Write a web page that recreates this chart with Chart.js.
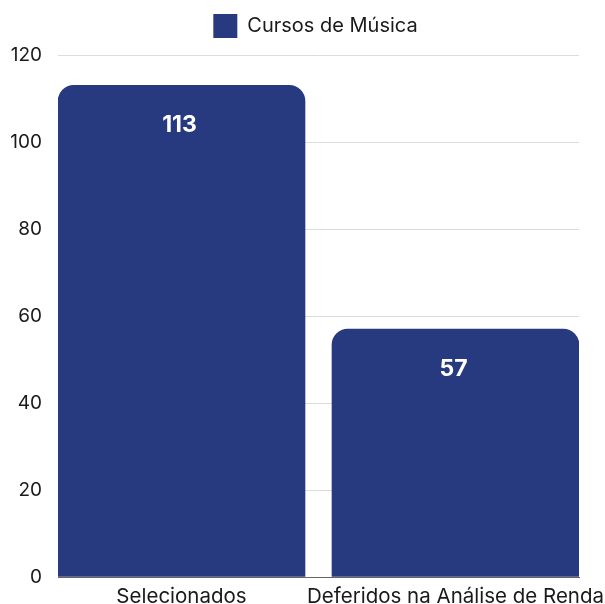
<!DOCTYPE html>
<html>
<head>
<meta charset="utf-8">
<script src="https://cdn.jsdelivr.net/npm/chart.js@4/dist/chart.umd.min.js"></script>
<style>
  html, body { margin: 0; padding: 0; background: #fff; }
  #wrap { width: 605px; height: 604px; }
</style>
</head>
<body>
<div id="wrap"><canvas id="grafico"></canvas></div>
<script>
// DADOS
const categorias = ['Selecionados', 'Deferidos na Análise de Renda'];
const valores = [113, 57];
const serie = 'Cursos de Música';
const ticksY = [0, 20, 40, 60, 80, 100, 120];

const corBarra = '#283a7f';
const fonte = "'Inter', sans-serif";

Chart.defaults.color = '#1a1a1a';
Chart.defaults.font.family = fonte;
Chart.defaults.font.size = 19;

// rótulos de valor dentro das barras
const rotulosValor = {
    id: 'rotulosValor',
    afterDatasetsDraw(chart) {
        const ctx = chart.ctx;
        const meta = chart.getDatasetMeta(0);
        ctx.save();
        ctx.fillStyle = '#ffffff';
        ctx.font = "bold 23px " + fonte;
        ctx.textAlign = 'center';
        ctx.textBaseline = 'middle';
        meta.data.forEach((bar, i) => {
            ctx.fillText(String(valores[i]), bar.x - 2, bar.y + 40);
        });
        ctx.restore();
    }
};

// espaço extra abaixo da legenda e legenda centrada sobre o gráfico
const ajusteLegenda = {
    id: 'ajusteLegenda',
    beforeInit(chart) {
        const fitOriginal = chart.legend.fit;
        chart.legend.fit = function () {
            fitOriginal.bind(chart.legend)();
            this.height += 7;
        };
    },
    afterLayout(chart) {
        chart.legend.left += 26;
        chart.legend.right += 26;
    }
};

new Chart(document.getElementById('grafico'), {
    type: 'bar',
    data: {
        datasets: [{
            label: serie,
            data: valores.map((v, i) => ({ x: i, y: v })),
            backgroundColor: corBarra,
            borderRadius: 16,
            barThickness: 247
        }]
    },
    options: {
        responsive: true,
        maintainAspectRatio: false,
        animation: false,
        layout: { padding: { left: 0, right: 26, top: 0, bottom: 0 } },
        plugins: {
            tooltip: { enabled: false },
            legend: {
                labels: {
                    boxWidth: 24,
                    boxHeight: 24,
                    padding: 14,
                    color: '#1a1a1a',
                    font: { size: 20 }
                }
            }
        },
        scales: {
            x: {
                type: 'linear',
                offset: false,
                min: -0.4507,
                max: 1.4507,
                afterBuildTicks: (scale) => {
                    scale.ticks = categorias.map((c, i) => ({ value: i }));
                },
                afterFit: (scale) => {
                    scale.height = 27;
                    scale.paddingLeft = 0;
                    scale.paddingRight = 0;
                },
                ticks: {
                    autoSkip: false,
                    maxRotation: 0,
                    padding: 0,
                    font: { size: 20.5 },
                    callback: (v) => categorias[v]
                },
                grid: { display: false, offset: false },
                border: { display: true, color: '#666', width: 1 }
            },
            y: {
                min: 0,
                max: 120,
                afterBuildTicks: (scale) => {
                    scale.ticks = ticksY.map(v => ({ value: v }));
                },
                afterFit: (scale) => {
                    scale.width = 58;
                    scale.paddingTop = 0;
                    scale.paddingBottom = 0;
                },
                ticks: { padding: 16, font: { size: 19 } },
                grid: { color: '#dcdcdc', drawTicks: false },
                border: { display: false }
            }
        }
    },
    plugins: [rotulosValor, ajusteLegenda]
});
</script>
</body>
</html>
